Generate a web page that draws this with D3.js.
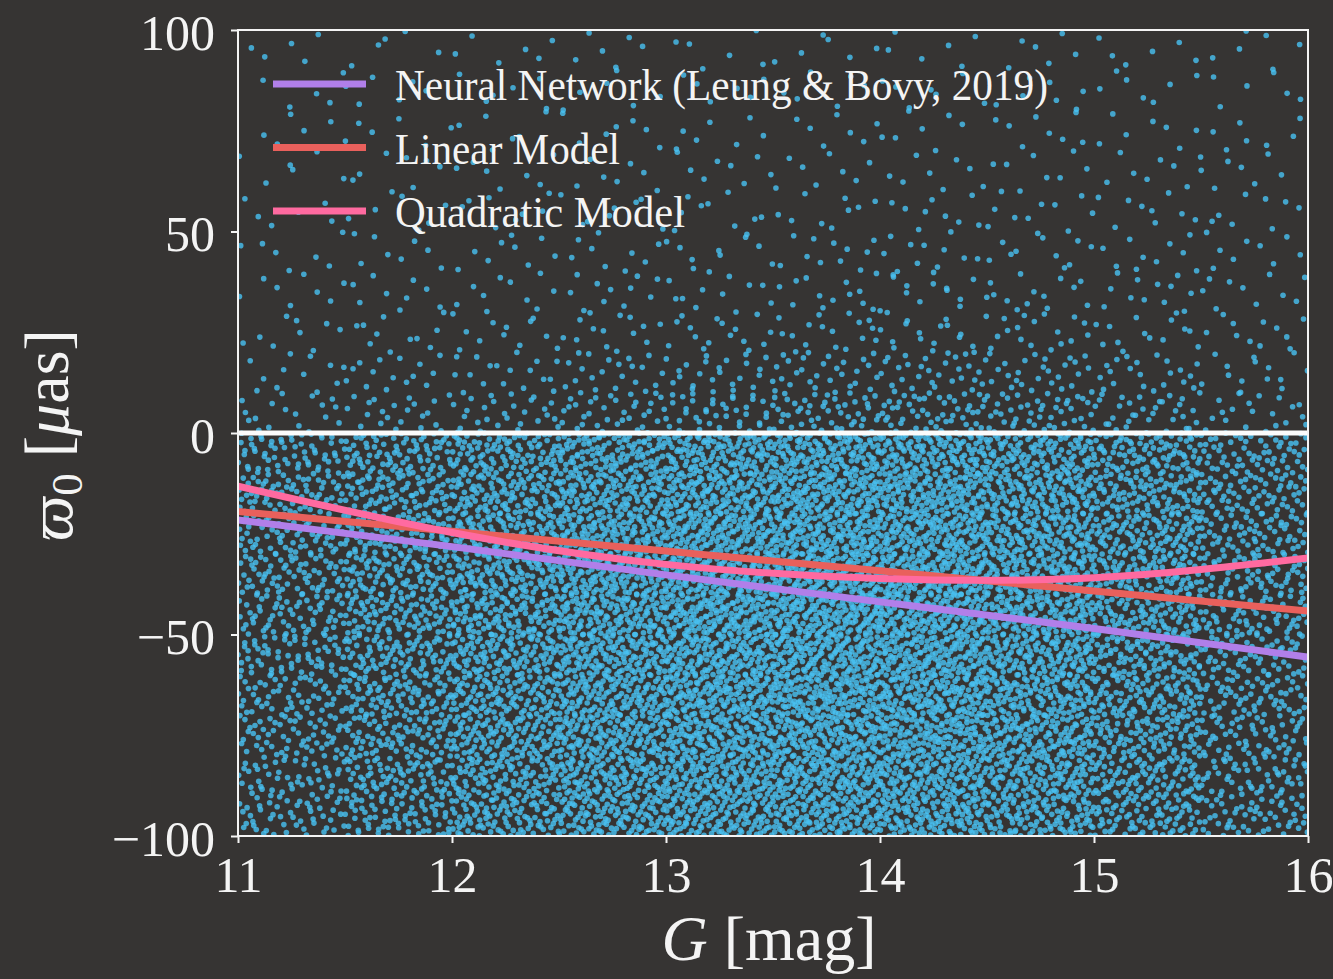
<!DOCTYPE html>
<html>
<head>
<meta charset="utf-8">
<script src="https://cdn.jsdelivr.net/npm/d3@7"></script>
<style>
  html, body { margin: 0; padding: 0; background: #363433; }
  svg { display: block; }
  text { font-family: "Liberation Serif", "DejaVu Serif", serif; fill: #f4f4f4; }
</style>
</head>
<body>
<div id="chart"></div>
<script>
// ---- data ---------------------------------------------------------------
// Magnitude bins (G) used for the star-count grid
const gBinEdges = [11, 11.5, 12, 12.5, 13, 13.5, 14, 14.5, 15, 15.5, 16];
// Parallax offset bins, 10 µas tall, listed by their upper edge
const plxBinTopsAbove = [100, 90, 80, 70, 60, 50, 40, 30, 20, 10];
const plxBinTopsBelow = [0, -10, -20, -30, -40, -50, -60, -70, -80, -90];
// Number of stars per (parallax bin, G bin) cell, above zero
const countsAbove = [
  [5, 5, 6, 6, 6, 6, 6, 6, 6, 6],
  [5, 6, 6, 6, 6, 6, 7, 7, 7, 6],
  [6, 6, 6, 7, 7, 7, 7, 8, 7, 7],
  [6, 7, 7, 7, 8, 8, 8, 8, 8, 7],
  [6, 7, 8, 8, 9, 9, 9, 10, 9, 8],
  [7, 8, 9, 9, 10, 11, 11, 11, 10, 9],
  [8, 9, 10, 11, 12, 13, 14, 13, 12, 10],
  [9, 11, 12, 14, 16, 17, 18, 17, 14, 11],
  [12, 15, 18, 21, 25, 28, 30, 27, 21, 14],
  [18, 22, 28, 35, 42, 48, 52, 46, 34, 20]
];
// Number of stars per cell, below zero
const countsBelow = [
  [62, 81, 100, 119, 138, 144, 138, 119, 94, 62],
  [69, 88, 112, 131, 150, 156, 150, 131, 100, 69],
  [69, 94, 119, 144, 156, 162, 156, 138, 106, 69],
  [69, 94, 119, 144, 162, 169, 162, 138, 106, 69],
  [62, 94, 119, 144, 162, 169, 162, 138, 106, 69],
  [62, 88, 119, 144, 156, 162, 156, 138, 100, 62],
  [56, 88, 112, 138, 156, 162, 156, 131, 100, 62],
  [56, 81, 112, 138, 150, 156, 150, 131, 94, 56],
  [50, 81, 106, 131, 144, 150, 144, 125, 94, 56],
  [50, 75, 106, 125, 138, 144, 138, 119, 88, 56]
];

// Model curves evaluated at integer G
const modelG = [11, 12, 13, 14, 15, 16];
const neuralNet = [-21.6, -28.2, -35.2, -41.9, -48.5, -55.6];
const linearModel = [-19.5, -24.4, -29.3, -34.2, -39.2, -44.2];
const quadraticModel = [-13.2, -24.7, -32.6, -36.1, -35.9, -31.0];

const seriesNames = ["Neural Network (Leung & Bovy, 2019)", "Linear Model", "Quadratic Model"];
const seriesColors = ["#b17fe9", "#e9605c", "#ff6aa0"];

const xTicks = [11, 12, 13, 14, 15, 16];
const yTicks = [-100, -50, 0, 50, 100];

// ---- layout -------------------------------------------------------------
const W = 1333, H = 979;
const plot = { left: 238, right: 1308, top: 30, bottom: 836 };
const bg = "#363433";
const ink = "#f4f4f4";
const serif = '"Liberation Serif", "DejaVu Serif", serif';

const x = d3.scaleLinear().domain([11, 16]).range([plot.left, plot.right]);
const y = d3.scaleLinear().domain([-100, 100]).range([plot.bottom, plot.top]);

const svg = d3.select("#chart").append("svg")
  .attr("width", W).attr("height", H)
  .style("background", bg);

svg.append("defs").append("clipPath").attr("id", "plotClip")
  .append("rect")
  .attr("x", plot.left).attr("y", plot.top)
  .attr("width", plot.right - plot.left).attr("height", plot.bottom - plot.top);

// ---- stars: each cell holds its count, spread over the cell with a Halton sequence
function halton(i, b) {
  let f = 1, r = 0;
  while (i > 0) { f /= b; r += f * (i % b); i = Math.floor(i / b); }
  return r;
}
const stars = [];
let k = 1;
function addCells(tops, counts) {
  counts.forEach((row, i) => {
    const top = tops[i];
    row.forEach((n, j) => {
      const g0 = gBinEdges[j], g1 = gBinEdges[j + 1];
      for (let q = 0; q < n; q++, k++) {
        stars.push({ g: g0 + halton(k, 2) * (g1 - g0), p: top - halton(k, 3) * 10 });
      }
    });
  });
}
addCells(plxBinTopsAbove, countsAbove);
addCells(plxBinTopsBelow, countsBelow);

const gPlot = svg.append("g").attr("clip-path", "url(#plotClip)");

gPlot.append("g")
  .selectAll("circle")
  .data(stars)
  .join("circle")
  .attr("cx", d => x(d.g))
  .attr("cy", d => y(d.p))
  .attr("r", 2.8)
  .attr("fill", "#49c2f2")
  .attr("fill-opacity", 0.8);

// zero reference line
gPlot.append("line")
  .attr("x1", x(11)).attr("x2", x(16))
  .attr("y1", y(0)).attr("y2", y(0))
  .attr("stroke", "#fbfbfb").attr("stroke-width", 5);

// model curves
const lineGen = d3.line()
  .x((d, i) => x(modelG[i]))
  .y(d => y(d))
  .curve(d3.curveNatural);

[neuralNet, linearModel, quadraticModel].forEach((vals, i) => {
  gPlot.append("path")
    .attr("d", lineGen(vals))
    .attr("fill", "none")
    .attr("stroke", seriesColors[i])
    .attr("stroke-width", 7);
});

// ---- frame and axes -----------------------------------------------------
svg.append("rect")
  .attr("x", plot.left).attr("y", plot.top)
  .attr("width", plot.right - plot.left).attr("height", plot.bottom - plot.top)
  .attr("fill", "none").attr("stroke", ink).attr("stroke-width", 2);

const fmt = d => (d < 0 ? "\u2212" + Math.abs(d) : String(d));

const yAxis = svg.append("g")
  .attr("transform", `translate(${plot.left},0)`)
  .call(d3.axisLeft(y).tickValues(yTicks).tickSize(7).tickPadding(16).tickFormat(fmt));
const xAxis = svg.append("g")
  .attr("transform", `translate(0,${plot.bottom})`)
  .call(d3.axisBottom(x).tickValues(xTicks).tickSize(7).tickPadding(13).tickFormat(fmt));

[yAxis, xAxis].forEach(ax => {
  ax.select(".domain").remove();
  ax.selectAll(".tick line").attr("stroke", ink).attr("stroke-width", 2);
  ax.selectAll(".tick text")
    .attr("fill", ink)
    .style("font-family", serif)
    .style("font-size", "50px");
});
yAxis.selectAll(".tick text").attr("dy", "0.38em");

// axis titles
svg.append("text")
  .attr("x", 769).attr("y", 960)
  .attr("text-anchor", "middle")
  .style("font-size", "64px")
  .call(t => {
    t.append("tspan").attr("font-style", "italic").text("G");
    t.append("tspan").text(" [mag]");
  });

svg.append("text")
  .attr("transform", "translate(72,435) rotate(-90)")
  .attr("text-anchor", "middle")
  .style("font-size", "64px")
  .call(t => {
    t.append("tspan").attr("font-style", "italic").text("\u03D6");
    t.append("tspan").attr("dy", "0.22em").style("font-size", "45px").text("0");
    t.append("tspan").attr("dy", "-0.22em").text(" [");
    t.append("tspan").attr("font-style", "italic").text("\u03BC");
    t.append("tspan").text("as]");
  });

// ---- legend -------------------------------------------------------------
const legendWidths = [653, 225, 290];
const legend = svg.append("g");
seriesNames.forEach((name, i) => {
  const yy = 84 + i * 63.5;
  legend.append("line")
    .attr("x1", 273).attr("x2", 366)
    .attr("y1", yy).attr("y2", yy)
    .attr("stroke", seriesColors[i]).attr("stroke-width", 7);
  legend.append("text")
    .attr("x", 395).attr("y", yy + 16)
    .attr("textLength", legendWidths[i])
    .attr("lengthAdjust", "spacingAndGlyphs")
    .style("font-size", "44px")
    .text(name);
});
</script>
</body>
</html>
